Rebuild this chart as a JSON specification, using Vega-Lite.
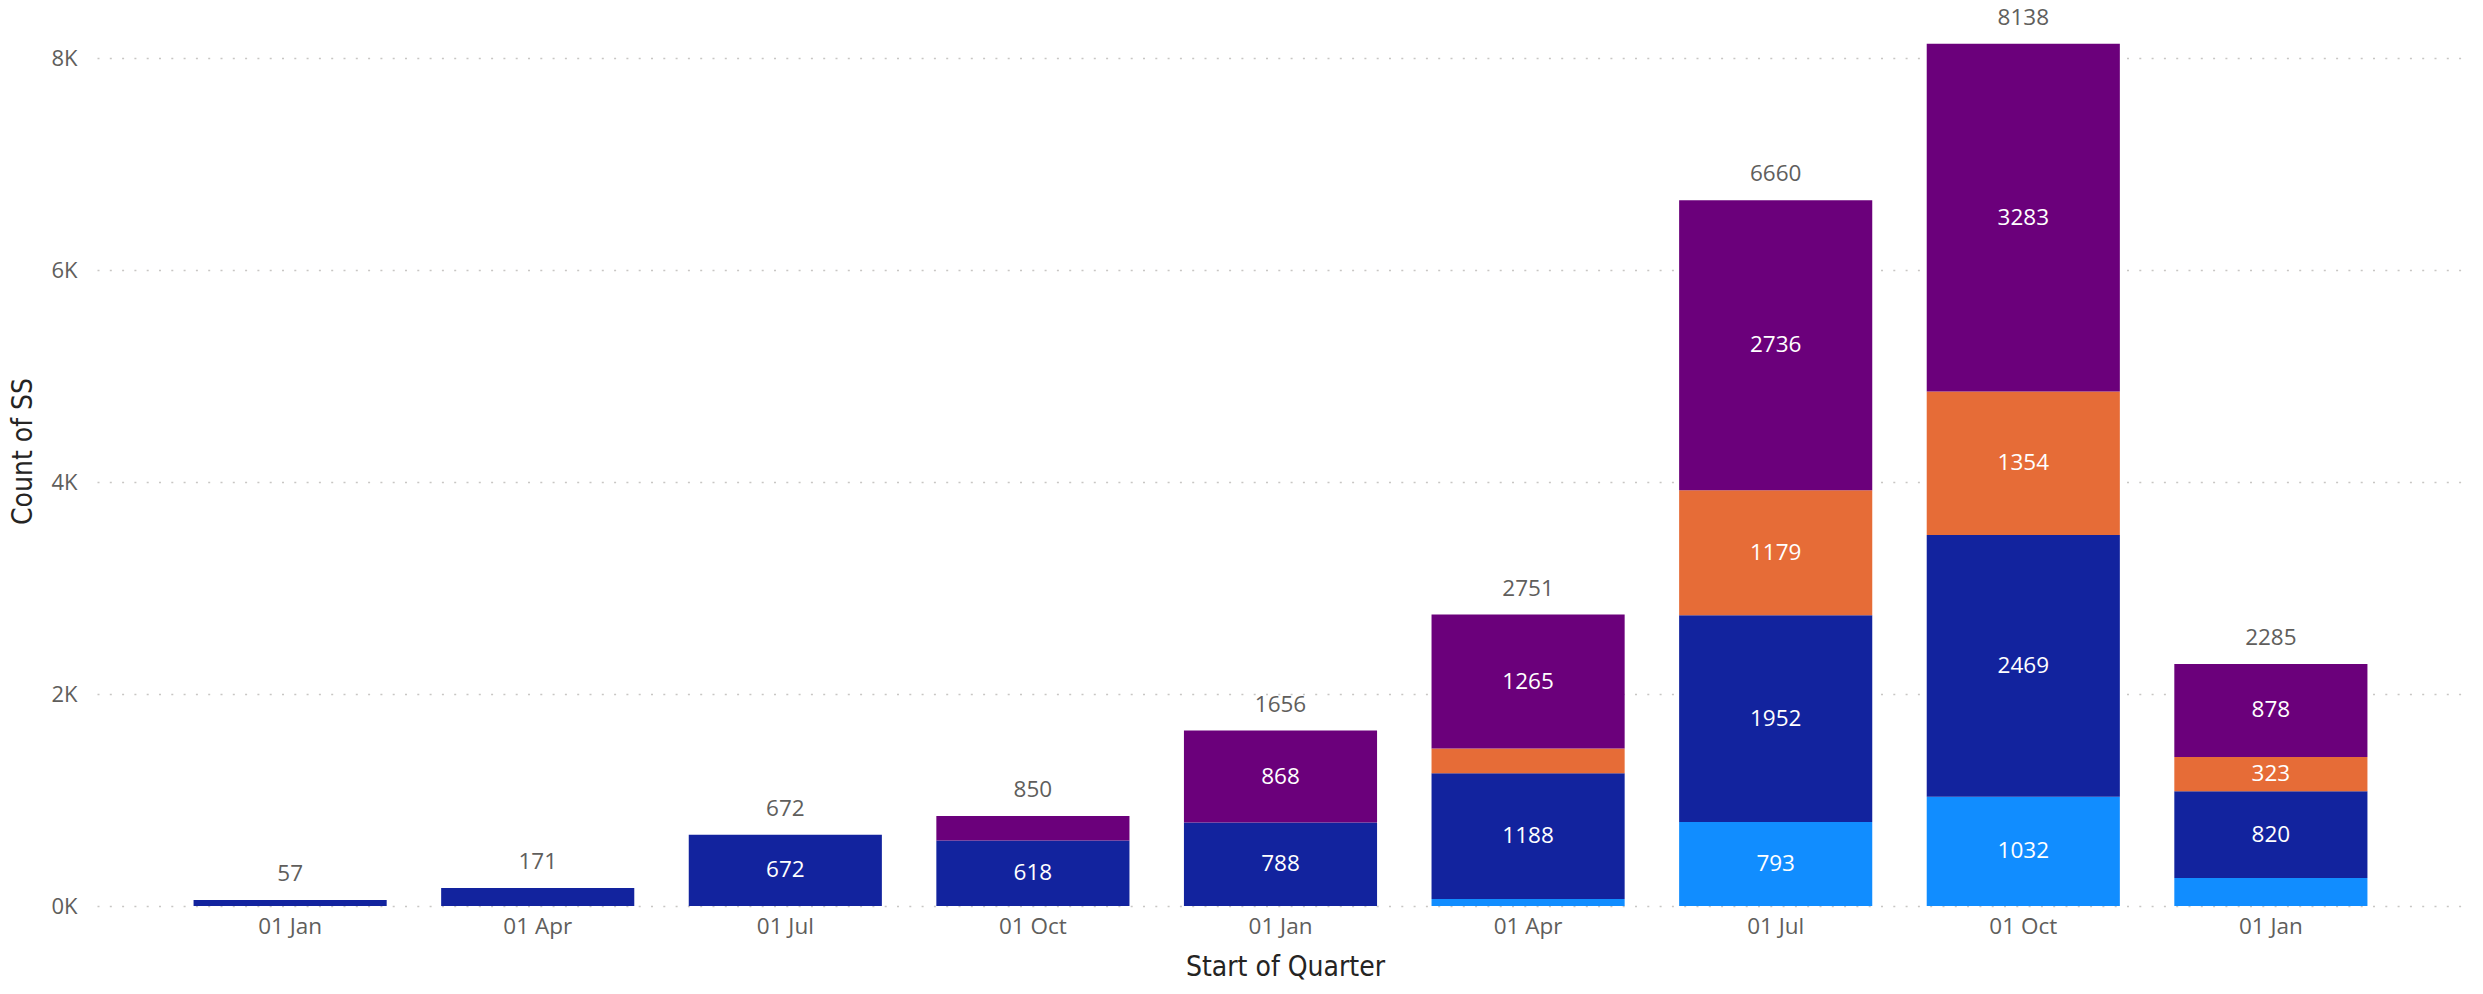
{
  "$schema": "https://vega.github.io/schema/vega-lite/v6.json",
  "width": 2367,
  "height": 890,
  "autosize": {"type": "none"},
  "padding": {"left": 97, "top": 16, "right": 19, "bottom": 88},
  "background": "white",
  "config": {"view": {"stroke": null}},
  "data": {"values": [
    {"quarter": "2021-01-01", "segment": "B", "value": 57},
    {"quarter": "2021-04-01", "segment": "B", "value": 171},
    {"quarter": "2021-07-01", "segment": "B", "value": 672},
    {"quarter": "2021-10-01", "segment": "B", "value": 618},
    {"quarter": "2021-10-01", "segment": "D", "value": 232},
    {"quarter": "2022-01-01", "segment": "B", "value": 788},
    {"quarter": "2022-01-01", "segment": "D", "value": 868},
    {"quarter": "2022-04-01", "segment": "A", "value": 66},
    {"quarter": "2022-04-01", "segment": "B", "value": 1188},
    {"quarter": "2022-04-01", "segment": "C", "value": 232},
    {"quarter": "2022-04-01", "segment": "D", "value": 1265},
    {"quarter": "2022-07-01", "segment": "A", "value": 793},
    {"quarter": "2022-07-01", "segment": "B", "value": 1952},
    {"quarter": "2022-07-01", "segment": "C", "value": 1179},
    {"quarter": "2022-07-01", "segment": "D", "value": 2736},
    {"quarter": "2022-10-01", "segment": "A", "value": 1032},
    {"quarter": "2022-10-01", "segment": "B", "value": 2469},
    {"quarter": "2022-10-01", "segment": "C", "value": 1354},
    {"quarter": "2022-10-01", "segment": "D", "value": 3283},
    {"quarter": "2023-01-01", "segment": "A", "value": 264},
    {"quarter": "2023-01-01", "segment": "B", "value": 820},
    {"quarter": "2023-01-01", "segment": "C", "value": 323},
    {"quarter": "2023-01-01", "segment": "D", "value": 878}
  ]},
  "encoding": {
    "x": {
      "field": "quarter", "type": "ordinal",
      "scale": {"paddingInner": 0.22, "paddingOuter": 0.39},
      "axis": {
        "title": "Start of Quarter",
        "labelExpr": "timeFormat(toDate(datum.value + 'T00:00:00'), '%d %b')",
        "labelAngle": 0, "labelFont": "Open Sans", "labelFontSize": 22.5, "labelColor": "#605E5C",
        "labelPadding": 9, "ticks": false, "domain": false,
        "titleFont": "Liberation Sans Narrow, DejaVu Sans Condensed, Roboto", "titleFontSize": 28, "titleFontWeight": "normal", "titleColor": "#252423",
        "titleX": 1188, "titleY": 61, "titleBaseline": "middle", "titleAlign": "center"
      }
    }
  },
  "layer": [
    {
      "mark": {"type": "bar"},
      "encoding": {
        "y": {
          "field": "value", "type": "quantitative", "aggregate": "sum", "stack": "zero",
          "scale": {"domain": [0, 8400], "nice": false},
          "axis": {
            "title": "Count of SS",
            "values": [0, 2000, 4000, 6000, 8000],
            "labelExpr": "(datum.value / 1000) + 'K'",
            "labelFont": "Open Sans", "labelFontSize": 22, "labelColor": "#605E5C",
            "labelPadding": 20, "ticks": false, "domain": false,
            "grid": true, "gridColor": "#C8C6C4", "gridDash": [2, 10.3], "gridWidth": 1.6,
            "titleFont": "Liberation Sans Narrow, DejaVu Sans Condensed, Roboto", "titleFontSize": 28, "titleFontWeight": "normal", "titleColor": "#252423",
            "titleX": -74, "titleY": 435, "titleAngle": -90, "titleBaseline": "middle", "titleAlign": "center"
          }
        },
        "color": {
          "field": "segment", "type": "nominal", "legend": null,
          "scale": {"domain": ["A", "B", "C", "D"], "range": ["#118DFF", "#12239E", "#E66C37", "#6B007B"]}
        },
        "order": {"field": "segment", "sort": "ascending"}
      }
    },
    {
      "transform": [
        {"stack": "value", "groupby": ["quarter"], "sort": [{"field": "segment", "order": "ascending"}], "as": ["v0", "v1"]},
        {"calculate": "(datum.v0 + datum.v1) / 2", "as": "mid"},
        {"filter": "datum.value >= 300"}
      ],
      "mark": {"type": "text", "font": "Open Sans", "fontSize": 22.5, "color": "white", "baseline": "middle", "align": "center"},
      "encoding": {
        "y": {"field": "mid", "type": "quantitative"},
        "text": {"field": "value", "type": "quantitative", "format": "d"}
      }
    },
    {
      "mark": {"type": "text", "font": "Open Sans", "fontSize": 22.5, "color": "#605E5C", "baseline": "middle", "align": "center", "dy": -26},
      "encoding": {
        "y": {"field": "value", "type": "quantitative", "aggregate": "sum"},
        "text": {"field": "value", "type": "quantitative", "aggregate": "sum", "format": "d"}
      }
    }
  ]
}
